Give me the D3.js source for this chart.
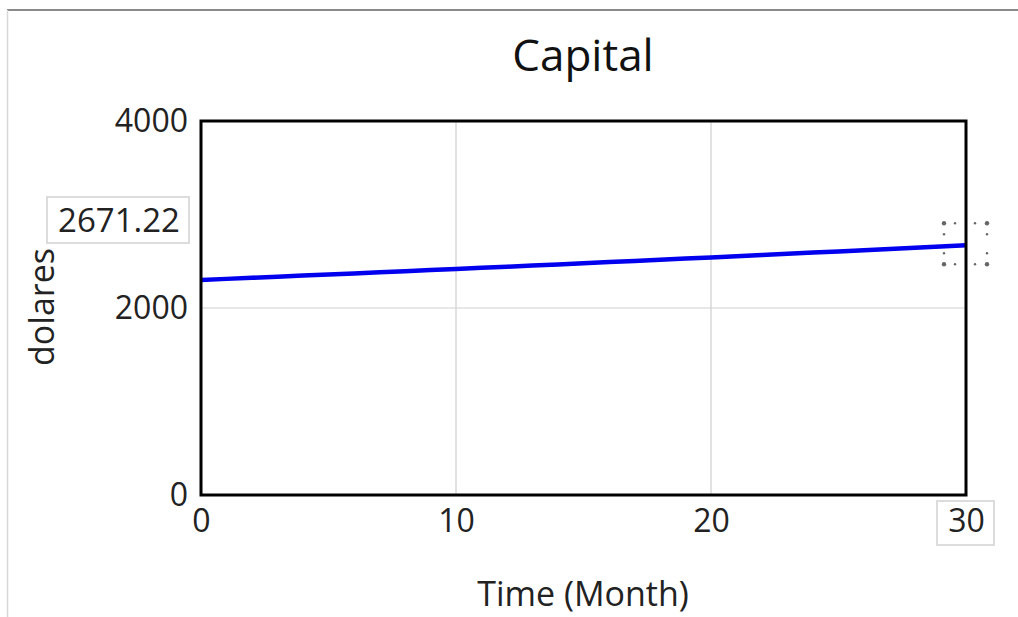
<!DOCTYPE html>
<html><head><meta charset="utf-8">
<script src="https://cdn.jsdelivr.net/npm/d3@7"></script>
<style>body{margin:0;background:#fff;}svg{display:block;font-family:"Open Sans","Noto Sans",sans-serif;}</style>
</head><body>
<svg id="c" width="1018" height="617"></svg>
<script>
const title = "Capital";
const xLabel = "Time (Month)";
const yLabel = "dolares";
const months = [0,1,2,3,4,5,6,7,8,9,10,11,12,13,14,15,16,17,18,19,20,21,22,23,24,25,26,27,28,29,30];
const capital = [2300.00,2311.50,2323.06,2334.67,2346.35,2358.08,2369.87,2381.72,2393.63,2405.60,2417.63,2429.71,2441.86,2454.07,2466.34,2478.67,2491.07,2503.52,2516.04,2528.62,2541.26,2553.97,2566.74,2579.57,2592.47,2605.43,2618.46,2631.55,2644.71,2657.93,2671.22];
const xTicks = [0,10,20,30];
const yTicks = [0,2000,4000];
const readout = "2671.22";

const FF = "'Open Sans','Noto Sans',sans-serif";
const svg = d3.select("#c");
// window frame
svg.append("line").attr("x1",7).attr("x2",1018).attr("y1",10).attr("y2",10).attr("stroke","#8a8a8a").attr("stroke-width",2);
svg.append("line").attr("x1",7.5).attr("x2",7.5).attr("y1",10).attr("y2",617).attr("stroke","#d8d8d8").attr("stroke-width",1.5);

const L=201,R=966,T=121,B=495;
const x = d3.scaleLinear().domain([0,30]).range([L,R]);
const y = d3.scaleLinear().domain([0,4000]).range([B,T]);

// grid
svg.append("g").selectAll("line").data(xTicks.slice(1,-1)).join("line")
  .attr("x1",d=>x(d)).attr("x2",d=>x(d)).attr("y1",T).attr("y2",B).attr("stroke","#cfcfcf").attr("stroke-width",1.2);
svg.append("g").selectAll("line").data(yTicks.slice(1,-1)).join("line")
  .attr("x1",L).attr("x2",R).attr("y1",d=>y(d)).attr("y2",d=>y(d)).attr("stroke","#cfcfcf").attr("stroke-width",1.2);

// axes (labels only, frame drawn separately)
const yAxis = svg.append("g").attr("transform",`translate(${L},0)`)
  .call(d3.axisLeft(y).tickValues(yTicks).tickFormat(d3.format("d")).tickSize(0).tickPadding(13));
yAxis.select(".domain").remove();
yAxis.selectAll("text").attr("font-size",32).attr("fill","#222").attr("font-family",FF);
const xAxis = svg.append("g").attr("transform",`translate(0,${B})`)
  .call(d3.axisBottom(x).tickValues(xTicks).tickFormat(d3.format("d")).tickSize(0).tickPadding(14));
xAxis.select(".domain").remove();
xAxis.selectAll("text").attr("font-size",32).attr("fill","#222").attr("font-family",FF);

// line
svg.append("path").datum(months.map((m,i)=>[m,capital[i]]))
  .attr("d",d3.line().x(d=>x(d[0])).y(d=>y(d[1])))
  .attr("fill","none").attr("stroke","#0000ee").attr("stroke-width",4.5);

// frame
svg.append("rect").attr("x",L).attr("y",T).attr("width",R-L).attr("height",B-T)
  .attr("fill","none").attr("stroke","#000").attr("stroke-width",3);

// title & labels
svg.append("text").attr("x",583).attr("y",71).attr("text-anchor","middle").attr("font-size",44).attr("fill","#111").text(title);
svg.append("text").attr("x",583).attr("y",606).attr("text-anchor","middle").attr("font-size",34).attr("fill","#222").text(xLabel);
svg.append("text").attr("transform","translate(54,307) rotate(-90)").attr("text-anchor","middle").attr("font-size",34).attr("fill","#222").text(yLabel);

// readout boxes
const lastV = capital[capital.length-1];
svg.append("rect").attr("x",47).attr("y",197).attr("width",142).attr("height",46).attr("fill","#fff").attr("stroke","#dcdcdc").attr("stroke-width",2);
svg.append("text").attr("x",119).attr("y",232).attr("text-anchor","middle").attr("font-size",33).attr("fill","#222").text(readout);
svg.append("rect").attr("x",937).attr("y",501).attr("width",57).attr("height",44).attr("fill","none").attr("stroke","#dcdcdc").attr("stroke-width",2);

// selection marker dots around end point
const ex = x(30), ey = y(lastV);
const dots = [[-22,-22],[-11,-22],[9,-22],[21,-22],[-22,-11],[21,-11],[-22,8],[21,8],[-22,19],[-11,19],[9,19],[21,19]];
svg.append("g").selectAll("circle").data(dots).join("circle")
  .attr("cx",d=>ex+d[0]).attr("cy",d=>ey+d[1]).attr("r",(d,i)=>(Math.abs(d[0])>20&&Math.abs(d[1])>18)?2.2:1.2).attr("fill","#666");
</script>
</body></html>
